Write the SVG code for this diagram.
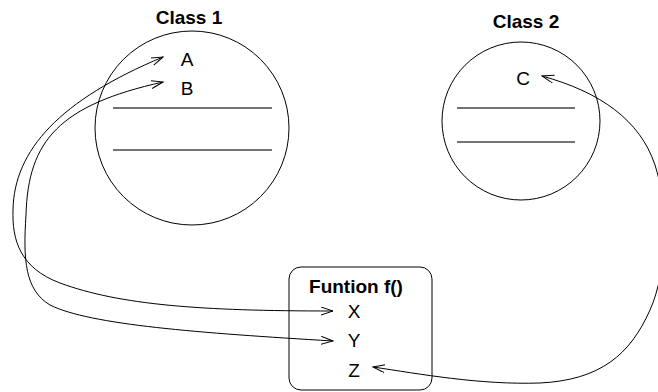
<svg xmlns="http://www.w3.org/2000/svg" width="658" height="392" viewBox="0 0 658 392">
  <style>
    .shape { fill: none; stroke: #000; stroke-width: 1; }
    .sep { stroke: #444; stroke-width: 1.3; }
    .title { font-family: "Liberation Sans", Arial, sans-serif; font-size: 19px; font-weight: bold; text-anchor: middle; fill: #000; }
    .item { font-family: "Liberation Sans", Arial, sans-serif; font-size: 19px; text-anchor: middle; fill: #000; }
    .link { fill: none; stroke: #000; stroke-width: 1; marker-start: url(#open); marker-end: url(#open); }
  </style>
  <defs>
    <marker id="open" markerUnits="userSpaceOnUse" markerWidth="14" markerHeight="10" refX="12" refY="4" orient="auto-start-reverse">
      <path d="M0,0 L12,4 L0,8" fill="none" stroke="#000" stroke-width="1"/>
    </marker>
  </defs>
  <rect width="658" height="392" fill="#fff"/>

  <g id="class1">
    <text class="title" x="189" y="24">Class 1</text>
    <circle class="shape" cx="192" cy="128" r="97"/>
    <text class="item" x="187" y="66">A</text>
    <text class="item" x="187" y="95">B</text>
    <line class="sep" x1="113" y1="108" x2="272" y2="108"/>
    <line class="sep" x1="113" y1="150" x2="272" y2="150"/>
  </g>

  <g id="class2">
    <text class="title" x="526" y="28">Class 2</text>
    <circle class="shape" cx="521" cy="121" r="79"/>
    <text class="item" x="523" y="85">C</text>
    <line class="sep" x1="457" y1="108" x2="575" y2="108"/>
    <line class="sep" x1="457" y1="142" x2="575" y2="142"/>
  </g>

  <g id="function">
    <rect class="shape" x="289" y="267" width="143" height="123" rx="12" ry="12"/>
    <text class="title" x="356" y="293">Funtion f()</text>
    <text class="item" x="354" y="318">X</text>
    <text class="item" x="354" y="347">Y</text>
    <text class="item" x="354" y="377">Z</text>
  </g>

  <g id="connectors">
    <!-- X <-> A -->
    <path class="link" d="M333,311 C200,311 120,305 60,283 C20,268 12,240 13,210 C14,150 60,100 163,57"/>
    <!-- Y <-> B -->
    <path class="link" d="M333,341 C200,333 90,325 50,305 C25,290 23,260 26,215 C28,140 60,105 163,82"/>
    <!-- C <-> Z -->
    <path class="link" d="M542,76 C600,92 640,120 655,165 C668,205 668,270 650,310 C630,355 600,380 540,383 C480,385 420,374 373,367"/>
  </g>
</svg>
